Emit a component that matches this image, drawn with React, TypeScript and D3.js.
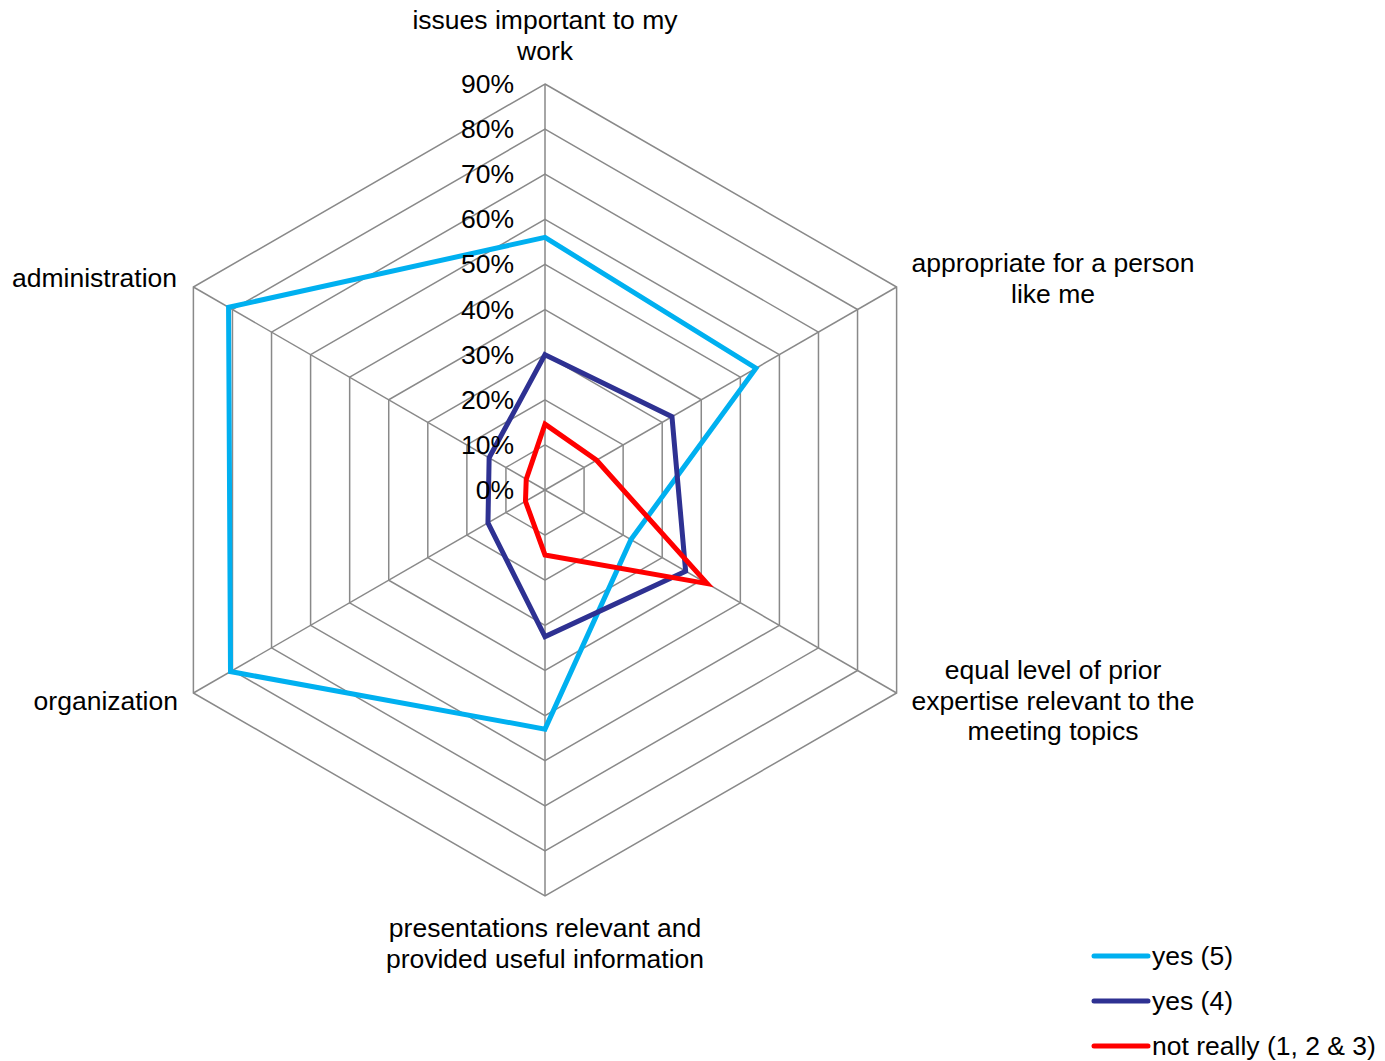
import React from "react";
import * as d3 from "d3";

// Spokes of the radar chart, clockwise from the top
const axes = [
  ["issues important to my", "work"],
  ["appropriate for a person", "like me"],
  ["equal level of prior", "expertise relevant to the", "meeting topics"],
  ["presentations relevant and", "provided useful information"],
  ["organization"],
  ["administration"],
];

const seriesNames = ["yes (5)", "yes (4)", "not really (1, 2 & 3)"];
const seriesColors = ["#00B0F0", "#2E3192", "#FF0000"];

// Share of answers per spoke (%)
const yes5 = [56, 54, 22, 53, 80.5, 81];
const yes4 = [30, 32.5, 36, 32.5, 14.6, 14.3];
const notReally = [14.6, 13.2, 41.5, 14.4, 5, 4.8];

const tickValues = [0, 10, 20, 30, 40, 50, 60, 70, 80, 90];

const W = 1385;
const H = 1061;
const cx = 545;
const cy = 490;
const R = 406;
const FS = 26.5;

export default function App() {
  const r = d3.scaleLinear().domain([0, 90]).range([0, R]);
  const n = axes.length;
  const angle = (i: number) => (i * 2 * Math.PI) / n;
  const pt = (i: number, v: number): [number, number] => [
    cx + r(v) * Math.sin(angle(i)),
    cy - r(v) * Math.cos(angle(i)),
  ];
  const closed = d3.line().curve(d3.curveLinearClosed);
  const allSeries = [yes5, yes4, notReally];

  const labelPos: { x: number; y: number; anchor: string }[] = [
    { x: cx, y: 20, anchor: "middle" },
    { x: 1053, y: 263, anchor: "middle" },
    { x: 1053, y: 670, anchor: "middle" },
    { x: cx, y: 928, anchor: "middle" },
    { x: 178, y: 701, anchor: "end" },
    { x: 177, y: 278, anchor: "end" },
  ];
  const lineH = 30.5;

  return (
    <svg
      width={W}
      height={H}
      style={{ position: "absolute", left: 0, top: 0, background: "#fff" }}
      fontFamily="'Liberation Sans', Arial, sans-serif"
    >
      {/* rings */}
      {tickValues.slice(1).map((t) => (
        <path
          key={t}
          d={closed(d3.range(n).map((i) => pt(i, t))) || ""}
          fill="none"
          stroke="#898989"
          strokeWidth={1.5}
        />
      ))}
      {/* spokes */}
      {d3.range(n).map((i) => {
        const [x, y] = pt(i, 90);
        return <line key={i} x1={cx} y1={cy} x2={x} y2={y} stroke="#898989" strokeWidth={1.5} />;
      })}
      {/* series */}
      {allSeries.map((s, k) => (
        <path
          key={k}
          d={closed(s.map((v, i) => pt(i, v))) || ""}
          fill="none"
          stroke={seriesColors[k]}
          strokeWidth={5}
          strokeLinejoin="miter"
        />
      ))}
      {/* tick labels */}
      {tickValues.map((t) => (
        <text
          key={t}
          x={514}
          y={cy - r(t)}
          textAnchor="end"
          dominantBaseline="central"
          fontSize={FS}
          fill="#000"
        >
          {t}%
        </text>
      ))}
      {/* axis labels */}
      {axes.map((lines, i) => (
        <text key={i} fontSize={FS} fill="#000" textAnchor={labelPos[i].anchor}>
          {lines.map((l, j) => (
            <tspan key={j} x={labelPos[i].x} y={labelPos[i].y + j * lineH} dominantBaseline="central">
              {l}
            </tspan>
          ))}
        </text>
      ))}
      {/* legend */}
      {seriesNames.map((name, k) => (
        <g key={name} transform={`translate(0, ${956 + k * 45})`}>
          <line x1={1094} x2={1148} y1={0} y2={0} stroke={seriesColors[k]} strokeWidth={5} strokeLinecap="round" />
          <text x={1152} y={0} dominantBaseline="central" fontSize={FS} fill="#000">
            {name}
          </text>
        </g>
      ))}
    </svg>
  );
}
